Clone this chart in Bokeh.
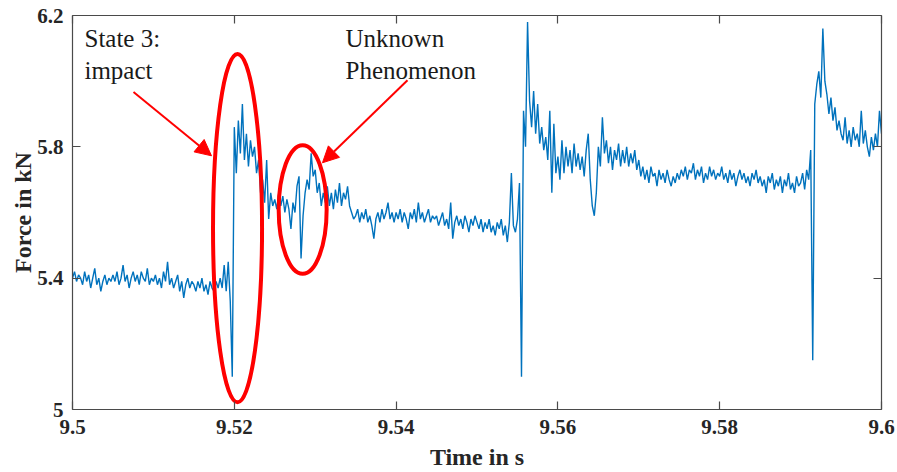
import numpy as np
from bokeh.plotting import figure
from bokeh.models import (LinearAxis, Range1d, FixedTicker, Arrow, NormalHead,
                          Label, ColumnDataSource)
from bokeh.embed import file_html
from bokeh.resources import INLINE

# ---------------- data ----------------
t_start = 9.5          # s
t_step = 0.00025       # s, sample spacing of the hand-read trace

# force in kN, 20 samples per 0.005 s block
force_kN = [
    # 9.500 - 9.505
    5.40, 5.42, 5.39, 5.41, 5.40, 5.38, 5.42, 5.39, 5.41, 5.37, 5.40, 5.43, 5.38, 5.40, 5.36, 5.39, 5.41, 5.38, 5.40, 5.39,
    # 9.505 - 9.510
    5.41, 5.39, 5.42, 5.38, 5.40, 5.44, 5.39, 5.41, 5.37, 5.40, 5.42, 5.39, 5.41, 5.38, 5.42, 5.40, 5.39, 5.43, 5.38, 5.40,
    # 9.510 - 9.515
    5.39, 5.41, 5.38, 5.40, 5.37, 5.42, 5.39, 5.45, 5.38, 5.40, 5.37, 5.39, 5.41, 5.36, 5.39, 5.34, 5.38, 5.40, 5.37, 5.39,
    # 9.515 - 9.520
    5.38, 5.36, 5.39, 5.37, 5.40, 5.36, 5.38, 5.35, 5.39, 5.37, 5.36, 5.39, 5.37, 5.40, 5.37, 5.44, 5.36, 5.45, 5.33, 5.10,
    # 9.520 - 9.525
    5.86, 5.72, 5.88, 5.78, 5.93, 5.76, 5.84, 5.74, 5.82, 5.77, 5.80, 5.72, 5.76, 5.66, 5.70, 5.63, 5.76, 5.58, 5.66, 5.62,
    # 9.525 - 9.530
    5.64, 5.61, 5.66, 5.62, 5.65, 5.60, 5.64, 5.61, 5.55, 5.63, 5.60, 5.68, 5.71, 5.46, 5.59, 5.66, 5.70, 5.67, 5.78, 5.71,
    # 9.530 - 9.535
    5.73, 5.66, 5.69, 5.62, 5.66, 5.63, 5.68, 5.62, 5.66, 5.61, 5.67, 5.63, 5.69, 5.62, 5.66, 5.64, 5.68, 5.62, 5.60, 5.58,
    # 9.535 - 9.540
    5.59, 5.61, 5.57, 5.60, 5.58, 5.61, 5.57, 5.59, 5.56, 5.52, 5.58, 5.60, 5.57, 5.61, 5.58, 5.60, 5.63, 5.58, 5.60, 5.57,
    # 9.540 - 9.545
    5.60, 5.58, 5.61, 5.57, 5.60, 5.58, 5.55, 5.60, 5.58, 5.61, 5.57, 5.63, 5.58, 5.60, 5.57, 5.59, 5.61, 5.57, 5.59, 5.58,
    # 9.545 - 9.550
    5.59, 5.56, 5.58, 5.60, 5.56, 5.58, 5.55, 5.63, 5.52, 5.57, 5.59, 5.56, 5.58, 5.55, 5.59, 5.57, 5.54, 5.58, 5.56, 5.59,
    # 9.550 - 9.555
    5.57, 5.55, 5.58, 5.54, 5.57, 5.55, 5.58, 5.54, 5.56, 5.53, 5.57, 5.55, 5.58, 5.53, 5.56, 5.51, 5.57, 5.72, 5.56, 5.54,
    # 9.555 - 9.560
    5.58, 5.69, 5.10, 5.91, 5.80, 6.18, 5.94, 5.86, 5.97, 5.84, 5.93, 5.81, 5.86, 5.79, 5.83, 5.76, 5.91, 5.66, 5.87, 5.72,
    # 9.560 - 9.565
    5.77, 5.70, 5.82, 5.72, 5.80, 5.74, 5.79, 5.72, 5.81, 5.74, 5.78, 5.73, 5.77, 5.71, 5.79, 5.84, 5.70, 5.62, 5.59, 5.66,
    # 9.565 - 9.570
    5.80, 5.74, 5.89, 5.78, 5.82, 5.75, 5.80, 5.73, 5.79, 5.76, 5.81, 5.74, 5.79, 5.75, 5.80, 5.74, 5.78, 5.75, 5.79, 5.73,
    # 9.570 - 9.575
    5.76, 5.71, 5.74, 5.70, 5.73, 5.69, 5.74, 5.71, 5.72, 5.68, 5.73, 5.70, 5.72, 5.69, 5.73, 5.70, 5.68, 5.71, 5.69, 5.72,
    # 9.575 - 9.580
    5.70, 5.73, 5.71, 5.74, 5.70, 5.73, 5.72, 5.75, 5.70, 5.73, 5.71, 5.74, 5.69, 5.72, 5.70, 5.74, 5.71, 5.73, 5.70, 5.72,
    # 9.580 - 9.585
    5.71, 5.74, 5.70, 5.72, 5.69, 5.73, 5.70, 5.72, 5.68, 5.71, 5.73, 5.70, 5.72, 5.69, 5.71, 5.68, 5.72, 5.70, 5.73, 5.69,
    # 9.585 - 9.590
    5.71, 5.68, 5.70, 5.66, 5.71, 5.69, 5.72, 5.67, 5.70, 5.68, 5.71, 5.66, 5.70, 5.68, 5.72, 5.67, 5.69, 5.66, 5.71, 5.68,
    # 9.590 - 9.595
    5.69, 5.72, 5.67, 5.73, 5.70, 5.79, 5.15, 5.93, 5.99, 6.03, 5.95, 6.16, 6.00, 5.96, 5.90, 5.95, 5.88, 5.92, 5.85, 5.88,
    # 9.595 - 9.600
    5.84, 5.82, 5.89, 5.81, 5.85, 5.80, 5.86, 5.82, 5.84, 5.80, 5.91, 5.81, 5.85, 5.80, 5.77, 5.83, 5.79, 5.84, 5.80, 5.91,
    5.84,
]
time_s = [t_start + i * t_step for i in range(len(force_kN))]

x_ticks = [9.5, 9.52, 9.54, 9.56, 9.58, 9.6]
x_tick_labels = ["9.5", "9.52", "9.54", "9.56", "9.58", "9.6"]
y_ticks = [5, 5.4, 5.8, 6.2]
y_tick_labels = ["5", "5.4", "5.8", "6.2"]

# annotation ellipses: centre time, centre force, width (s), height (kN)
ell_t = [9.52040, 9.52845]
ell_f = [5.5524, 5.6091]
ell_w = [0.00606, 0.00593]
ell_h = [1.061, 0.392]

# annotation arrows: start (t, F) -> tip (t, F)
arrow_t0 = [9.50754, 9.54141]
arrow_f0 = [5.9667, 6.0030]
arrow_t1 = [9.51718, 9.53090]
arrow_f1 = [5.7727, 5.7515]

note_texts = ["State 3:\nimpact", "Unknown\nPhenomenon"]
note_t = [9.50148, 9.53375]
note_f = [6.172, 6.172]

# ---------------- figure ----------------
SERIF = "Liberation Serif"
AXIS_COL = "#4a4a4a"
TXT_COL = "#262626"

p = figure(width=897, height=472,
           x_range=Range1d(9.5, 9.6), y_range=Range1d(5, 6.2),
           min_border_left=72, min_border_right=16,
           min_border_top=15, min_border_bottom=61,
           output_backend="svg", toolbar_location=None)
p.grid.visible = False
p.outline_line_color = None
p.background_fill_color = "white"
p.border_fill_color = "white"

def style_axis(ax, ticks, labels, show_labels):
    ax.ticker = FixedTicker(ticks=ticks)
    ax.axis_line_color = AXIS_COL
    ax.axis_line_width = 1.2
    ax.major_tick_line_color = AXIS_COL
    ax.major_tick_line_width = 1.2
    ax.major_tick_in = 8
    ax.major_tick_out = 0
    ax.minor_tick_in = 0
    ax.minor_tick_out = 0
    ax.major_label_text_font = SERIF
    ax.major_label_text_font_style = "bold"
    ax.major_label_text_font_size = "21px"
    ax.major_label_text_color = TXT_COL
    if show_labels:
        ax.major_label_overrides = {float(k): v for k, v in zip(ticks, labels)}
    else:
        ax.major_label_overrides = {float(k): "" for k in ticks}
        ax.major_label_standoff = 0

xb = p.xaxis[0]
yl = p.yaxis[0]
style_axis(xb, x_ticks, x_tick_labels, True)
style_axis(yl, y_ticks, y_tick_labels, True)
xb.major_label_standoff = 10
yl.major_label_standoff = 9

xb.axis_label = "Time in s"
yl.axis_label = "Force in kN"
for ax in (xb, yl):
    ax.axis_label_text_font = SERIF
    ax.axis_label_text_font_style = "bold"
    ax.axis_label_text_font_size = "24px"
    ax.axis_label_text_color = TXT_COL
xb.axis_label_standoff = 7
yl.axis_label_standoff = -2

xt = LinearAxis()
style_axis(xt, x_ticks, x_tick_labels, False)
p.add_layout(xt, "above")
yr = LinearAxis()
style_axis(yr, y_ticks, y_tick_labels, False)
p.add_layout(yr, "right")

# ---------------- signal ----------------
src = ColumnDataSource(dict(t=time_s, f=force_kN))
p.line("t", "f", source=src, line_color="#0072BD", line_width=1.4)

# ---------------- annotations ----------------
esrc = ColumnDataSource(dict(t=ell_t, f=ell_f, w=ell_w, h=ell_h))
p.ellipse(x="t", y="f", width="w", height="h", source=esrc,
          fill_color=None, line_color="#FF0000", line_width=4)

for i in range(len(arrow_t0)):
    p.add_layout(Arrow(end=NormalHead(size=16, fill_color="#FF0000",
                                      line_color="#FF0000", line_width=1),
                       x_start=arrow_t0[i], y_start=arrow_f0[i],
                       x_end=arrow_t1[i], y_end=arrow_f1[i],
                       line_color="#FF0000", line_width=2))

for i in range(len(note_texts)):
    p.add_layout(Label(x=note_t[i], y=note_f[i], text=note_texts[i],
                       text_font=SERIF, text_font_size="25px",
                       text_color="#1a1a1a", text_baseline="top",
                       text_align="left", text_line_height=1.2))

open("out.html", "w").write(file_html(p, INLINE))
